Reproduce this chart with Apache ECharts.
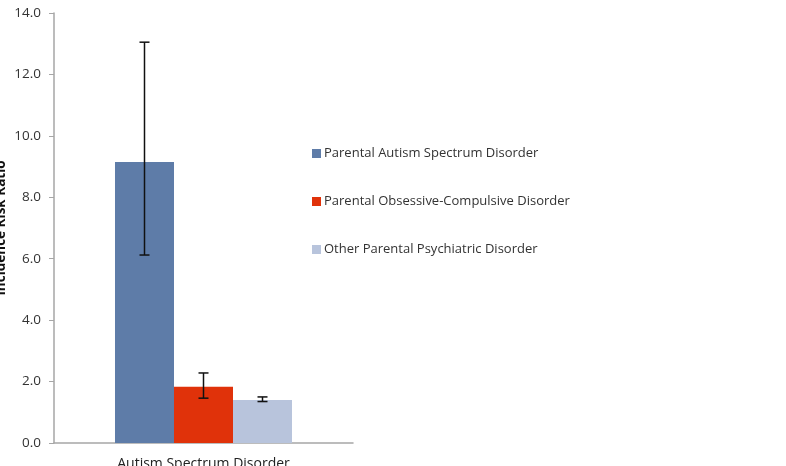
<!DOCTYPE html>
<html><head><meta charset="utf-8">
<script src="https://cdn.jsdelivr.net/npm/echarts@6/dist/echarts.min.js"></script>
<style>html,body{margin:0;padding:0;background:#fff}#c{width:786px;height:466px}</style>
</head><body><div id="c"></div>
<script>
const categories = ['Autism Spectrum Disorder'];
const seriesNames = ['Parental Autism Spectrum Disorder','Parental Obsessive-Compulsive Disorder','Other Parental Psychiatric Disorder'];
const values = [9.15, 1.83, 1.40];
const errLow = [6.12, 1.46, 1.35];
const errHigh = [13.05, 2.28, 1.50];
const yTicks = [0,2,4,6,8,10,12,14];
const colors = ['#5e7ca8','#e0320a','#b8c4dc'];

const gapPct = 40.8;
const chart = echarts.init(document.getElementById('c'));
const series = seriesNames.map((n,i)=>({
  name:n, type:'bar', data:[values[i]], barGap:'0%', barCategoryGap: gapPct+'%',
  itemStyle:{color:colors[i]}, emphasis:{disabled:true}, z:2
}));
series.push({
  type:'custom', z:5, silent:true,
  data: seriesNames.map((n,i)=>[0, errLow[i], errHigh[i], i]),
  encode:{x:0,y:[1,2]},
  renderItem(params, api){
    const i = api.value(3);
    const band = api.size([1,0])[0];
    const bw = band*(1-gapPct/100)/3;
    const lo = api.coord([api.value(0), api.value(1)]);
    const hi = api.coord([api.value(0), api.value(2)]);
    const x = lo[0] + (i-1)*bw;
    const cap = 5;
    const st = {stroke:'#111', lineWidth:1.5};
    return {type:'group', children:[
      {type:'line', shape:{x1:x,y1:lo[1],x2:x,y2:hi[1]}, style:st},
      {type:'line', shape:{x1:x-cap,y1:lo[1],x2:x+cap,y2:lo[1]}, style:st},
      {type:'line', shape:{x1:x-cap,y1:hi[1],x2:x+cap,y2:hi[1]}, style:st}
    ]};
  }
});
chart.setOption({
  animation:false,
  textStyle:{fontFamily:'Open Sans'},
  grid:{left:54, top:13, right:433, bottom:23, containLabel:false, outerBoundsMode:'none'},
  legend:{
    orient:'vertical', left:307, top:142, itemWidth:9, itemHeight:9, itemGap:35,
    icon:'rect', data:seriesNames,
    textStyle:{fontSize:13, color:'#333', fontFamily:'Open Sans', padding:[0,0,0,-2]}
  },
  xAxis:{
    type:'category', data:categories,
    axisLine:{lineStyle:{color:'#a6a6a6', width:1.5}},
    axisTick:{show:false},
    axisLabel:{fontSize:14, color:'#222', margin:14}
  },
  yAxis:{
    type:'value', min:yTicks[0], max:yTicks[yTicks.length-1], interval:2,
    name:'Incidence Risk Ratio', nameLocation:'middle', nameGap:46,
    nameTextStyle:{fontSize:13.5, fontWeight:'bold', color:'#111'},
    axisLine:{show:true, lineStyle:{color:'#a6a6a6', width:1.5}},
    axisTick:{show:true, length:5, lineStyle:{color:'#a6a6a6'}},
    splitLine:{show:false},
    axisLabel:{fontSize:13.5, color:'#333', margin:13, formatter:v=>v.toFixed(1)}
  },
  series
});
</script></body></html>
